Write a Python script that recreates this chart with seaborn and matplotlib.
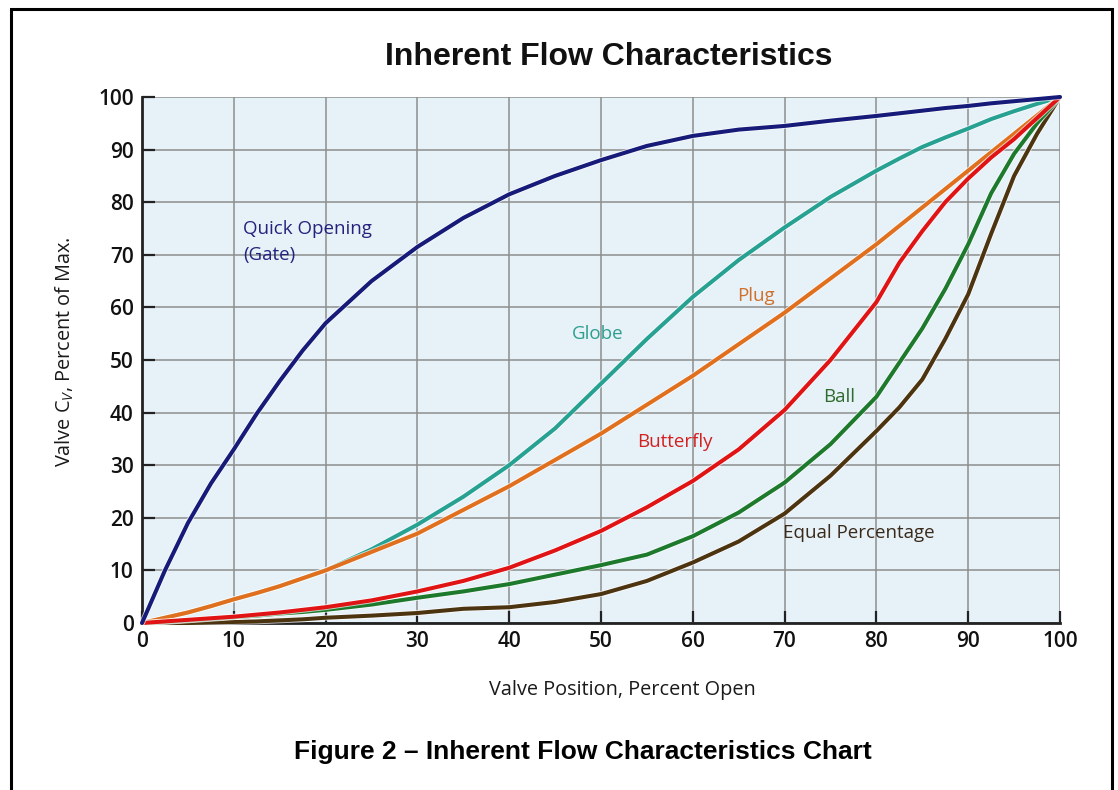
import matplotlib
matplotlib.use("Agg")
import matplotlib.pyplot as plt
import seaborn as sns
import pandas as pd
from matplotlib.patches import Rectangle
import matplotlib.patheffects as pe

# ---- data ----
valve_position = [0, 2.5, 5, 7.5, 10, 12.5, 15, 17.5, 20, 25, 30, 35, 40, 45, 50, 55, 60, 65, 70,
                  75, 80, 82.5, 85, 87.5, 90, 92.5, 95, 97.5, 100]
quick_opening = [0, 10, 19, 26.5, 33, 39.8, 46, 51.8, 57, 65, 71.5, 77, 81.5, 85, 88, 90.7, 92.6, 93.8, 94.5,
                 95.5, 96.4, 96.9, 97.4, 97.9, 98.3, 98.8, 99.2, 99.6, 100]
globe = [0, 1, 2, 3.2, 4.5, 5.7, 7, 8.5, 10, 14, 18.7, 24, 30, 37, 45.5, 54, 62, 69, 75.2,
         81, 86, 88.3, 90.5, 92.3, 94, 95.8, 97.3, 98.7, 100]
plug = [0, 1, 2, 3.2, 4.5, 5.7, 7, 8.5, 10, 13.5, 17, 21.5, 26, 31, 36, 41.5, 47, 53, 59,
        65.5, 72, 75.5, 79, 82.5, 86, 89.5, 93, 96.5, 100]
butterfly = [0, 0.3, 0.6, 0.9, 1.2, 1.6, 2, 2.5, 3, 4.3, 6, 8, 10.5, 13.8, 17.5, 22, 27, 33, 40.5,
             50, 61, 68.5, 74.5, 80, 84.5, 88.5, 92, 96, 100]
ball = [0, 0.2, 0.5, 0.8, 1.1, 1.4, 1.8, 2.1, 2.5, 3.5, 4.8, 6, 7.4, 9.2, 11, 13, 16.5, 21, 26.7,
        34, 43, 49.5, 56, 63.5, 72, 81.7, 89.2, 95, 100]
equal_percentage = [0, 0, 0, 0.1, 0.2, 0.3, 0.5, 0.7, 1, 1.4, 1.9, 2.7, 3, 4, 5.5, 8, 11.5, 15.5, 20.8,
                    28, 36.5, 41, 46.3, 54, 62.5, 74, 85, 93, 100]

series_names = ["Globe", "Plug", "Equal Percentage", "Ball", "Butterfly", "Quick Opening"]
series_values = [globe, plug, equal_percentage, ball, butterfly, quick_opening]
line_colors = ["#27a192", "#e0701e", "#4d3410", "#1d7a2c", "#e01414", "#161a78"]

label_texts = ["Quick Opening\n(Gate)", "Globe", "Plug", "Butterfly", "Ball", "Equal Percentage"]
label_x = [11, 49.6, 66.9, 58.0, 75.9, 78.1]
label_y = [72.4, 54.9, 62.1, 34.5, 42.9, 17.1]
label_colors = ["#23237e", "#2e9e8e", "#d0702c", "#d42020", "#2f6b2c", "#3a2a1a"]

ticks = [0, 10, 20, 30, 40, 50, 60, 70, 80, 90, 100]

# ---- build long-form table ----
frames = []
for name, vals in zip(series_names, series_values):
    frames.append(pd.DataFrame({"position": valve_position, "cv": vals, "valve": name}))
df = pd.concat(frames, ignore_index=True)

sns.set_theme(style="white")
plt.rcParams["font.family"] = ["Open Sans", "DejaVu Sans"]
plt.rcParams["mathtext.fontset"] = "custom"
plt.rcParams["mathtext.rm"] = "Open Sans"
plt.rcParams["mathtext.it"] = "Open Sans:italic"

fig = plt.figure(figsize=(11.18, 7.90), dpi=100)
fig.patch.set_facecolor("white")
ax = fig.add_axes([142 / 1118, 1 - 623 / 790, (1060 - 142) / 1118, (623 - 97) / 790])
ax.set_facecolor("#e6f1f8")

sns.lineplot(data=df, x="position", y="cv", hue="valve", hue_order=series_names,
             palette=dict(zip(series_names, line_colors)), linewidth=2.9,
             legend=False, ax=ax, clip_on=False, zorder=3)
for ln in ax.lines:
    ln.set_solid_capstyle("round")
    ln.set_solid_joinstyle("round")
    ln.set_path_effects([pe.Stroke(linewidth=4.2, foreground="white", alpha=0.7), pe.Normal()])

ax.set_xlim(0, 100)
ax.set_ylim(0, 100)
ax.set_xticks(ticks)
ax.set_yticks(ticks)
ax.grid(True, color="#8e8e8e", linewidth=1.1, zorder=1)
ax.set_axisbelow(True)
for s in ["top", "right"]:
    ax.spines[s].set_visible(False)
for s in ["left", "bottom"]:
    ax.spines[s].set_visible(True)
    ax.spines[s].set_color("#222222")
    ax.spines[s].set_linewidth(2.0)
ax.tick_params(axis="both", direction="in", length=9, width=1.6, color="#222222",
               labelsize=15, labelcolor="#111111", pad=6, left=True, bottom=True)
for lab in ax.get_xticklabels() + ax.get_yticklabels():
    lab.set_fontweight("semibold")
ax.set_xlabel("")
ax.set_ylabel("")

for t, x, y, c in zip(label_texts, label_x, label_y, label_colors):
    ax.text(x, y, t, color=c, fontsize=13.5, fontweight="medium",
            ha="left" if "\n" in t else "center",
            va="center", linespacing=1.6, zorder=4)

fig.text(609 / 1118, 1 - 57 / 790, "Inherent Flow Characteristics",
         ha="center", va="center", fontsize=23, fontweight="bold",
         family="Liberation Sans", color="#111111")
fig.text(622 / 1118, 1 - 690 / 790, "Valve Position, Percent Open",
         ha="center", va="center", fontsize=14.3, fontweight="medium", color="#1a1a1a")
fig.text(65 / 1118, 1 - 352 / 790, r"Valve C$_{\mathit{V}}$, Percent of Max.",
         ha="center", va="center", rotation=90, fontsize=14.3, fontweight="medium", color="#1a1a1a")
fig.text(583 / 1118, 1 - 752 / 790, "Figure 2 \u2013 Inherent Flow Characteristics Chart",
         ha="center", va="center", fontsize=19, fontweight="bold",
         family="Liberation Sans", color="#000000")

fig.patches.append(Rectangle((10.5 / 1118, -0.02), (1112 - 10.5) / 1118, 1.02 - 8.5 / 790,
                             transform=fig.transFigure, fill=False,
                             edgecolor="black", linewidth=2.2))

fig.savefig("out.png", dpi=100)
